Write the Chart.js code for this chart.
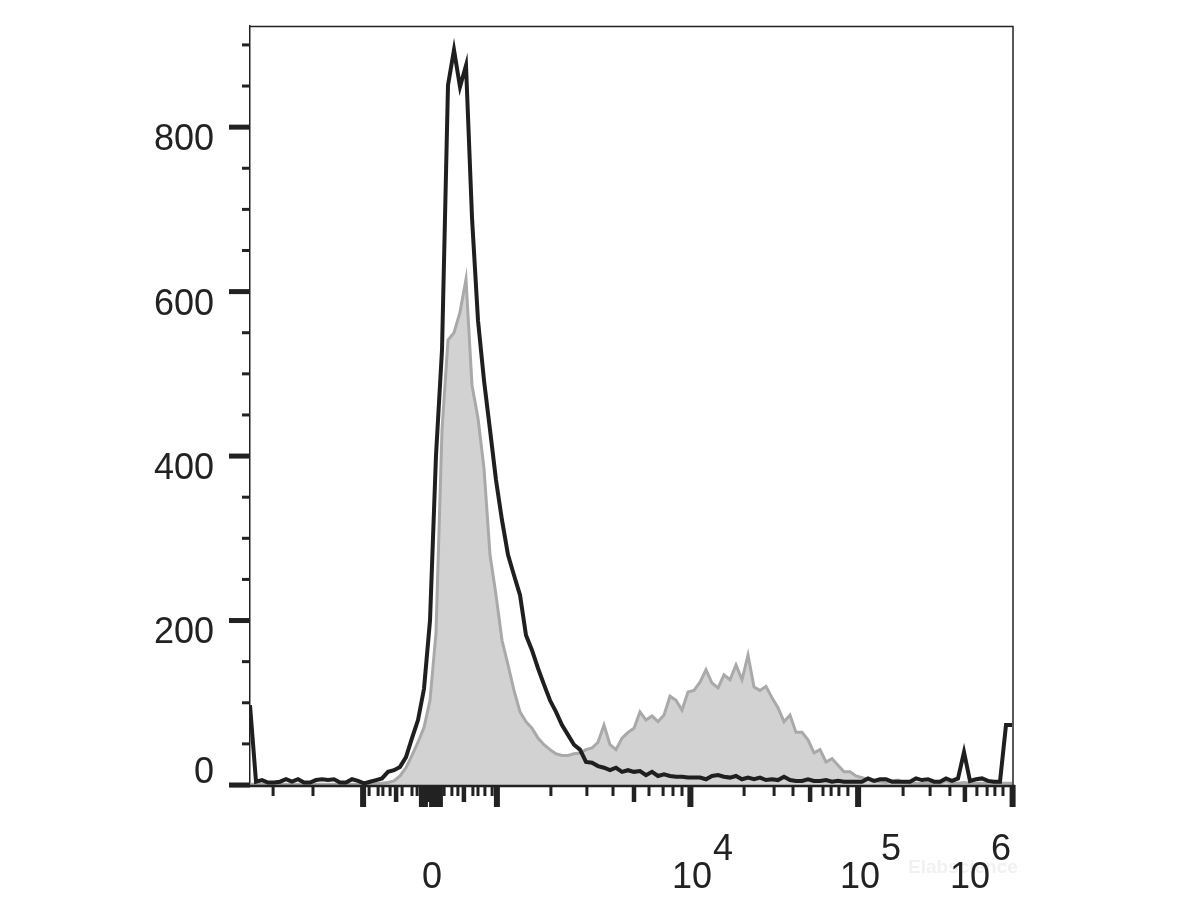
<!DOCTYPE html>
<html>
<head>
<meta charset="utf-8">
<title>Histogram</title>
<script src="https://cdn.jsdelivr.net/npm/chart.js@4.4.1/dist/chart.umd.min.js"></script>
<style>
  html, body { margin: 0; padding: 0; background: #fff; }
  #wrap { width: 1200px; height: 900px; }
</style>
</head>
<body>
<div id="wrap"><canvas id="histChart" width="1200" height="900"></canvas></div>
<script>
// histogram bins, in display channels (0..254)
const channels = [
  0, 2, 4, 6, 8, 10, 12, 14, 16, 18, 20, 22, 24, 26, 28, 30,
  32, 34, 36, 38, 40, 42, 44, 46, 48, 50, 52, 54, 56, 58, 60, 62,
  64, 66, 68, 70, 72, 74, 76, 78, 80, 82, 84, 86, 88, 90, 92, 94,
  96, 98, 100, 102, 104, 106, 108, 110, 112, 114, 116, 118, 120, 122, 124, 126,
  128, 130, 132, 134, 136, 138, 140, 142, 144, 146, 148, 150, 152, 154, 156, 158,
  160, 162, 164, 166, 168, 170, 172, 174, 176, 178, 180, 182, 184, 186, 188, 190,
  192, 194, 196, 198, 200, 202, 204, 206, 208, 210, 212, 214, 216, 218, 220, 222,
  224, 226, 228, 230, 232, 234, 236, 238, 240, 242, 244, 246, 248, 250, 252, 254
];

// black outline
const controlCounts = [
  97, 4, 6, 3, 3, 4, 7, 4, 7, 3, 3, 6, 7, 6, 7, 3,
  3, 7, 5, 2, 4, 6, 8, 16, 18, 22, 34, 57, 79, 117, 200, 401,
  529, 851, 894, 849, 875, 690, 565, 492, 432, 371, 322, 280, 255, 231, 182, 164,
  142, 122, 103, 89, 73, 61, 49, 43, 28, 27, 23, 21, 18, 21, 16, 18,
  16, 17, 12, 16, 11, 13, 11, 10, 10, 9, 9, 9, 7, 11, 12, 10,
  9, 11, 7, 9, 7, 9, 6, 7, 6, 10, 6, 5, 5, 7, 5, 5,
  6, 4, 5, 4, 4, 4, 4, 8, 5, 7, 7, 4, 4, 4, 4, 8,
  6, 7, 4, 4, 8, 5, 8, 40, 5, 7, 8, 5, 4, 4, 73, 73
];

// grey filled
const stainedCounts = [
  1, 1, 1, 1, 1, 1, 1, 1, 1, 1, 1, 1, 1, 1, 1, 1,
  1, 1, 1, 1, 2, 2, 2, 3, 5, 11, 21, 36, 52, 70, 103, 185,
  432, 541, 550, 575, 615, 486, 446, 385, 280, 231, 176, 146, 115, 89, 77, 69,
  57, 49, 43, 38, 36, 36, 38, 39, 43, 45, 52, 73, 49, 43, 57, 64,
  69, 89, 79, 84, 77, 85, 108, 103, 91, 113, 115, 125, 140, 124, 118, 134,
  128, 146, 128, 158, 119, 115, 120, 106, 94, 77, 85, 64, 64, 55, 39, 43,
  28, 32, 24, 16, 16, 11, 9, 7, 5, 4, 3, 5, 6, 3, 2, 2,
  2, 2, 2, 2, 5, 2, 2, 3, 2, 2, 2, 2, 2, 2, 2, 2
];

// y axis
const yTickValues = [0, 200, 400, 600, 800];
const yMinorStep = 50;

// x axis ticks (channels) and kind: L = decade, M = mid, S = minor
const xTickValues = [
  7.7, 21, 37.7, 39.7, 42.7, 44.3, 46.7, 48.7, 50.7, 54, 55.7,
  57.3, 58.3, 59.5, 60.7, 61.7, 62.7, 63.3, 64.7, 67.3, 69.3, 71.3,
  74.3, 76, 78.3, 80.7, 82.3, 100.3, 112.3, 121, 128, 133, 137.7, 141, 144, 146.8,
  164.7, 174.7, 181, 186.7, 191, 193.7, 196.3, 199.3, 202.7,
  217.7, 226.7, 233.3, 238.3, 242.3, 245.7, 248.3, 251, 254.2
];
const xTickKinds = [
  'S', 'S', 'L', 'S', 'S', 'S', 'S', 'M', 'S', 'S', 'S',
  'L', 'L', 'M', 'L', 'L', 'L', 'L', 'S', 'S', 'S', 'M',
  'S', 'S', 'S', 'S', 'L', 'S', 'S', 'S', 'M', 'S', 'S', 'S', 'S', 'L',
  'S', 'S', 'S', 'M', 'S', 'S', 'S', 'S', 'L',
  'S', 'S', 'S', 'M', 'S', 'S', 'S', 'S', 'L'
];
const xLabelBase = ['0', '10', '10', '10'];
const xLabelExp = ['', '4', '5', '6'];
const xLabelPos = [60.7, 147.3, 203.3, 240];

const FONT = '"Liberation Sans", Arial, Helvetica, sans-serif';

const cytoAxes = {
  id: 'cytoAxes',
  afterDraw(chart) {
    const { ctx, chartArea, scales } = chart;
    const xs = scales.x;
    const ys = scales.y;
    const left = chartArea.left, right = chartArea.right;
    const top = chartArea.top, bottom = chartArea.bottom;

    ctx.save();
    ctx.fillStyle = '#222';
    ctx.strokeStyle = '#222';

    // top and right frame
    ctx.lineWidth = 1.5;
    ctx.beginPath();
    ctx.moveTo(left, top + 0.5);
    ctx.lineTo(right + 1, top + 0.5);
    ctx.lineTo(right + 1, bottom);
    ctx.stroke();

    // bottom axis line
    ctx.lineWidth = 2.5;
    ctx.beginPath();
    ctx.moveTo(left - 20, bottom + 1);
    ctx.lineTo(right + 3, bottom + 1);
    ctx.stroke();

    // y ticks
    for (let v = 0; v <= ys.max; v += yMinorStep) {
      const y = ys.getPixelForValue(v);
      if (yTickValues.includes(v)) {
        ctx.fillRect(left - 21, y - 2.5, 21, 5);
      } else {
        ctx.fillRect(left - 8, y - 1.5, 8, 3);
      }
    }

    // x ticks
    xTickValues.forEach((val, i) => {
      const x = xs.getPixelForValue(val);
      const kind = xTickKinds[i];
      let w = 3, len = 11;
      if (kind === 'L') { w = 6; len = 22; }
      else if (kind === 'M') { w = 4.5; len = 17; }
      ctx.fillRect(x - w / 2, bottom, w, len);
    });

    // faint watermark
    ctx.font = 'bold 19px ' + FONT;
    ctx.fillStyle = '#f1f1f1';
    ctx.textAlign = 'left';
    ctx.textBaseline = 'alphabetic';
    ctx.fillText('Elabscience', 908, 873);

    // x labels
    ctx.fillStyle = '#222';
    xLabelBase.forEach((base, i) => {
      const cx = xs.getPixelForValue(xLabelPos[i]);
      ctx.font = '36px ' + FONT;
      ctx.textAlign = 'center';
      ctx.fillText(base, cx, 888);
      if (xLabelExp[i]) {
        const bw = ctx.measureText(base).width;
        ctx.textAlign = 'left';
        ctx.fillText(xLabelExp[i], cx + bw / 2 + 1, 860);
      }
    });

    ctx.restore();
  }
};

const ctx = document.getElementById('histChart');

new Chart(ctx, {
  type: 'line',
  data: {
    datasets: [
      {
        label: 'control',
        data: channels.map((c, i) => ({ x: c, y: controlCounts[i] })),
        borderColor: '#1f1f1f',
        borderWidth: 4,
        pointRadius: 0,
        tension: 0,
        fill: false,
        order: 0
      },
      {
        label: 'stained',
        data: channels.map((c, i) => ({ x: c, y: stainedCounts[i] })),
        borderColor: '#a9a9a9',
        backgroundColor: '#d2d2d2',
        borderWidth: 3,
        pointRadius: 0,
        tension: 0,
        fill: 'origin',
        order: 1
      }
    ]
  },
  options: {
    responsive: false,
    animation: false,
    devicePixelRatio: 1,
    layout: { padding: { top: 26, right: 188, bottom: 115, left: 0 } },
    plugins: {
      legend: { display: false },
      tooltip: { enabled: false }
    },
    scales: {
      x: {
        type: 'linear',
        min: 0,
        max: 254,
        display: false
      },
      y: {
        min: 0,
        max: 923,
        afterFit: function(scale) {
          scale.width = 250;
          scale.paddingTop = 0;
          scale.paddingBottom = 0;
        },
        grid: { drawOnChartArea: false, drawTicks: false },
        border: { display: true, color: '#222', width: 1.5 },
        ticks: {
          stepSize: 200,
          includeBounds: false,
          autoSkip: false,
          padding: 36,
          labelOffset: 13,
          color: '#222',
          font: { family: FONT, size: 36, lineHeight: '50px' },
          callback: function(value) {
            return value === 0 ? ['0', ''] : String(value);
          }
        }
      }
    }
  },
  plugins: [cytoAxes]
});
</script>
</body>
</html>
